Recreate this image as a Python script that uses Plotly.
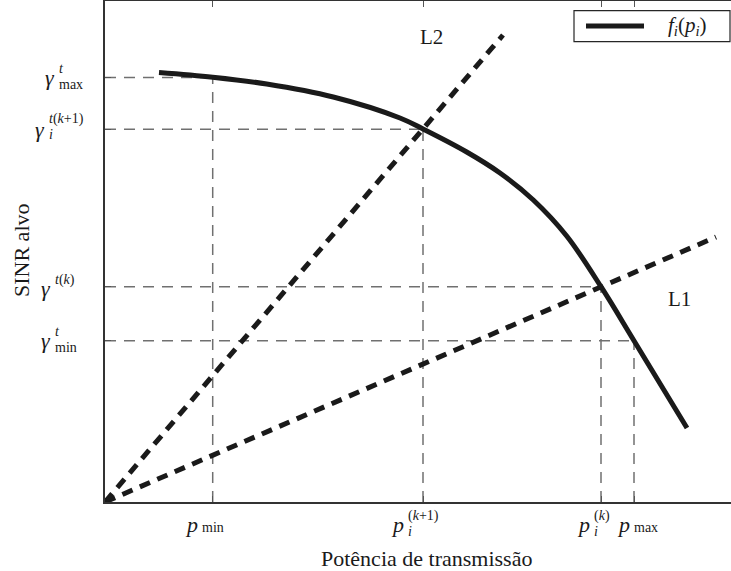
import plotly.graph_objects as go

# ---- data (axis units) ----
P_TICKS = [1.077, 3.18, 4.96, 5.29]          # p_min, p_i^(k+1), p_i^(k), p_max
G_TICKS = [4.245, 3.727, 2.153, 1.613]       # gamma_max, gamma_i^(k+1), gamma^(k), gamma_min

curve_x = [0.54, 1.077, 1.617, 2.283, 2.95, 3.18, 3.617, 3.95, 4.283, 4.617, 4.96, 5.29, 5.82]
curve_y = [4.295, 4.248, 4.18, 4.05, 3.84, 3.73, 3.50, 3.29, 3.02, 2.66, 2.153, 1.613, 0.74]

L1_x = [0.0, 6.11]
L1_y = [0.0, 2.65]
L2_x = [0.0, 3.98]
L2_y = [0.0, 4.67]

X_RANGE = [0, 6.26]
Y_RANGE = [0, 5.01]

FONT = "Liberation Serif"
DARK = "#1a1a1a"
GRAY = "#707070"

fig = go.Figure()

# guide lines (gray dashed)
for p, g in zip(P_TICKS, G_TICKS):
    fig.add_trace(go.Scatter(x=[0, p], y=[g, g], mode="lines",
                             line=dict(color=GRAY, width=1.5, dash="11px,8px"),
                             showlegend=False, hoverinfo="skip"))
    fig.add_trace(go.Scatter(x=[p, p], y=[0, g], mode="lines",
                             line=dict(color=GRAY, width=1.5, dash="11px,8px"),
                             showlegend=False, hoverinfo="skip"))

# L1, L2 dashed lines
fig.add_trace(go.Scatter(x=L1_x, y=L1_y, mode="lines",
                         line=dict(color=DARK, width=5, dash="11px,8px"),
                         showlegend=False, hoverinfo="skip"))
fig.add_trace(go.Scatter(x=L2_x, y=L2_y, mode="lines",
                         line=dict(color=DARK, width=5, dash="11px,8px"),
                         showlegend=False, hoverinfo="skip"))

# f_i(p_i) curve
fig.add_trace(go.Scatter(x=curve_x, y=curve_y, mode="lines",
                         line=dict(color=DARK, width=5, shape="spline", smoothing=1.0),
                         showlegend=False, name="f_i(p_i)"))

W, H = 731, 571
ML, MR, MT, MB = 105, 0, 1, 69
PW = W - ML - MR
PH = H - MT - MB

def px2paper(xp, yp):
    return (xp - ML) / PW, (H - MB - yp) / PH

ann = []
S = "<span style='font-size:14px'>%s</span>"
STK = 12.5  # annotation size controlling line spacing of stacked sup/sub

def ylab(val, text, xs, ys, size, anchor="left"):
    ann.append(dict(x=0, xref="paper", y=val, yref="y", text=text, showarrow=False,
                    xanchor=anchor, yanchor="middle", xshift=xs, yshift=ys, align="left",
                    borderpad=0, font=dict(family=FONT, size=size, color=DARK)))

def xlab(val, text, xs, ys, size, anchor="left"):
    ann.append(dict(x=val, xref="x", y=0, yref="paper", text=text, showarrow=False,
                    xanchor=anchor, yanchor="middle", xshift=xs, yshift=ys, align="left",
                    borderpad=0, font=dict(family=FONT, size=size, color=DARK)))

# y tick labels (stacked super/subscripts)
ylab(G_TICKS[0], "<i>γ</i>", -49, 0, 22, "right")
ylab(G_TICKS[0], (S % "<i>t</i>") + "<br>" + (S % "max"), -47, 1, STK)
ylab(G_TICKS[1], "<i>γ</i>", -59, 0, 22, "right")
ylab(G_TICKS[1], (S % "<i>t</i>(<i>k</i>+1)") + "<br>" + (S % "<i>i</i>"), -57, 3, STK)
ylab(G_TICKS[2], "<i>γ</i>", -53, -2, 22, "right")
ylab(G_TICKS[2], "<i>t</i>(<i>k</i>)", -51, 7, 14)
ylab(G_TICKS[3], "<i>γ</i>", -53, 0, 22, "right")
ylab(G_TICKS[3], (S % "<i>t</i>") + "<br>" + (S % "min"), -51, 1, STK)

# x tick labels
xlab(P_TICKS[0], "<i>p</i>", -14, -22, 22, "right")
xlab(P_TICKS[0], "min", -12, -25, 14)
xlab(P_TICKS[1], "<i>p</i>", -18, -22, 22, "right")
xlab(P_TICKS[1], (S % "(<i>k</i>+1)") + "<br>" + (S % "<i>i</i>"), -16, -21, STK)
xlab(P_TICKS[2], "<i>p</i>", -10, -22, 22, "right")
xlab(P_TICKS[2], (S % "(<i>k</i>)") + "<br>" + (S % "<i>i</i>"), -8, -21, STK)
xlab(P_TICKS[3], "<i>p</i>", -3, -22, 22, "right")
xlab(P_TICKS[3], "max", -1, -25, 14)

# L1, L2 labels
ann.append(dict(x=3.26, y=4.65, xref="x", yref="y", text="L2", showarrow=False,
                font=dict(family=FONT, size=21, color=DARK)))
ann.append(dict(x=5.74, y=2.03, xref="x", yref="y", text="L1", showarrow=False,
                font=dict(family=FONT, size=21, color=DARK)))

# axis titles
tx, ty = px2paper(426, 558)
ann.append(dict(x=tx, y=ty, xref="paper", yref="paper", text="Potência de transmissão",
                showarrow=False, xanchor="center", yanchor="middle",
                font=dict(family=FONT, size=22, color=DARK)))
sx, sy = px2paper(21, 250)
ann.append(dict(x=sx, y=sy, xref="paper", yref="paper", text="SINR alvo", textangle=-90,
                showarrow=False, xanchor="center", yanchor="middle",
                font=dict(family=FONT, size=22, color=DARK)))

# legend (box, line sample, label)
bx0, by0 = px2paper(574, 41.7)
bx1, by1 = px2paper(730, 10.7)
lx0, ly = px2paper(586, 26)
lx1, _ = px2paper(644, 26)
shapes = [
    dict(type="rect", xref="paper", yref="paper", x0=bx0, y0=by0, x1=bx1, y1=by1,
         line=dict(color="#262626", width=1.2), fillcolor="white", layer="above"),
    dict(type="line", xref="paper", yref="paper", x0=lx0, y0=ly, x1=lx1, y1=ly,
         line=dict(color=DARK, width=5), layer="above"),
]
ltx, lty = px2paper(687, 26)
ann.append(dict(x=ltx, y=lty, xref="paper", yref="paper",
                text="<i>f</i><sub><i>i</i></sub>(<i>p</i><sub><i>i</i></sub>)",
                showarrow=False, xanchor="center", yanchor="middle",
                font=dict(family=FONT, size=21, color=DARK)))

fig.update_layout(
    width=W, height=H,
    margin=dict(l=ML, r=MR, t=MT, b=MB),
    paper_bgcolor="white", plot_bgcolor="white",
    showlegend=False,
    annotations=ann, shapes=shapes,
    xaxis=dict(range=X_RANGE, showgrid=False, zeroline=False,
               showline=True, linecolor="#333333", linewidth=1.5, mirror="ticks",
               ticks="inside", ticklen=6, tickcolor="#555555", tickwidth=1,
               tickvals=P_TICKS, showticklabels=False),
    yaxis=dict(range=Y_RANGE, showgrid=False, zeroline=False,
               showline=True, linecolor="#333333", linewidth=1.5, mirror=False,
               ticks="inside", ticklen=6, tickcolor="#555555", tickwidth=1,
               tickvals=G_TICKS, showticklabels=False),
)

fig.write_html("out.html", config={"displayModeBar": False},
               post_script="document.body.style.margin='0px';document.body.style.overflow='hidden';")
